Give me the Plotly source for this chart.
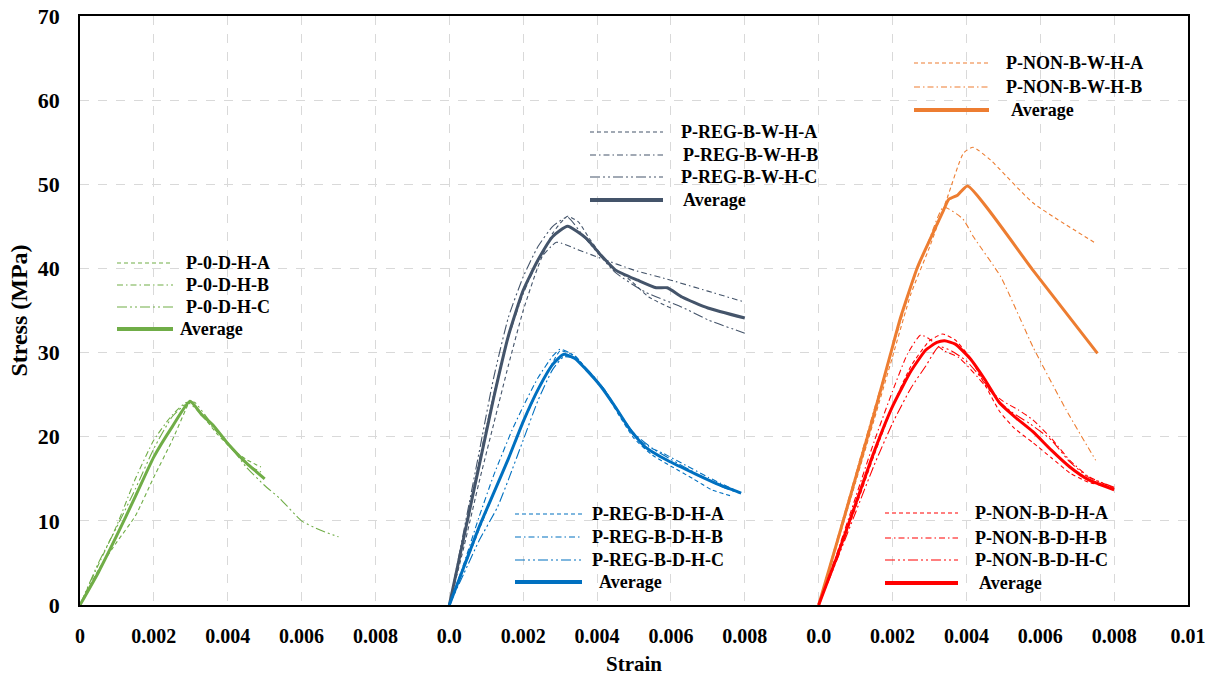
import plotly.graph_objects as go

# ---------------- DATA ----------------
# x axis: three strain panels placed side by side on one axis
panel_offsets = [0.0, 0.010, 0.020]
x_tick_values = [0, 0.002, 0.004, 0.006, 0.008, 0.010, 0.012, 0.014, 0.016, 0.018,
                 0.020, 0.022, 0.024, 0.026, 0.028, 0.030]
x_tick_labels = ["0", "0.002", "0.004", "0.006", "0.008", "0.0", "0.002", "0.004",
                 "0.006", "0.008", "0.0", "0.002", "0.004", "0.006", "0.008", "0.01"]
y_tick_values = [0, 10, 20, 30, 40, 50, 60, 70]

# Panel 1: P-0-D-H
p0_A_strain = [0, 0.0005, 0.001, 0.0015, 0.002, 0.0025, 0.0029, 0.00297, 0.0033, 0.0037, 0.0041, 0.0045, 0.0049]
p0_A_stress = [0, 4.2, 7.5, 10.6, 15.2, 19.6, 23.6, 24.2, 22.6, 20.4, 18.6, 17.3, 16.4]
p0_B_strain = [0, 0.0005, 0.001, 0.0015, 0.002, 0.0025, 0.0029, 0.0033, 0.0037, 0.0041, 0.0045, 0.0049]
p0_B_stress = [0, 4.8, 9.5, 15.0, 19.6, 22.6, 24.1, 22.6, 20.6, 18.6, 16.8, 15.8]
p0_C_strain = [0, 0.0005, 0.001, 0.0015, 0.002, 0.0025, 0.0029, 0.0031, 0.0035, 0.004, 0.0045, 0.005, 0.0054, 0.006, 0.0065, 0.007]
p0_C_stress = [0, 5.0, 9.3, 13.8, 18.6, 22.4, 24.0, 24.1, 21.9, 19.3, 16.4, 14.2, 12.7, 10.0, 8.9, 8.1]
p0_avg_strain = [0, 0.0005, 0.001, 0.0015, 0.002, 0.0025, 0.00298, 0.0033, 0.0036, 0.004, 0.0045, 0.005]
p0_avg_stress = [0, 3.9, 8.3, 12.9, 17.6, 21.2, 24.2, 22.6, 21.4, 19.2, 16.9, 15.0]

# Panel 2 (upper): P-REG-B-W-H
rw_A_strain = [0, 0.0004, 0.0008, 0.0012, 0.0016, 0.002, 0.0024, 0.0028, 0.0032, 0.0035, 0.0038, 0.0043, 0.0049, 0.0054, 0.006]
rw_A_stress = [0, 7.0, 14.5, 21.5, 28.5, 35.0, 40.2, 44.2, 46.2, 45.5, 43.5, 40.6, 38.6, 36.6, 35.3]
rw_B_strain = [0, 0.0004, 0.0008, 0.0012, 0.0016, 0.002, 0.0024, 0.0029, 0.0035, 0.0041, 0.005, 0.006, 0.007, 0.008]
rw_B_stress = [0, 8.5, 17.0, 25.0, 31.8, 37.0, 40.8, 43.1, 42.2, 41.2, 39.8, 38.6, 37.3, 36.0]
rw_C_strain = [0, 0.0004, 0.0008, 0.0012, 0.0016, 0.002, 0.0024, 0.0028, 0.0032, 0.0036, 0.0045, 0.0053, 0.0063, 0.007, 0.008]
rw_C_stress = [0, 9.0, 18.0, 27.0, 34.2, 39.0, 42.6, 45.0, 46.1, 44.0, 39.5, 37.2, 35.4, 33.9, 32.3]
rw_avg_strain = [0, 0.0004, 0.0008, 0.0012, 0.0016, 0.002, 0.0024, 0.0028, 0.0032, 0.0037, 0.0041, 0.0045, 0.0051, 0.0056, 0.0059, 0.0063, 0.007, 0.008]
rw_avg_stress = [0, 8.2, 16.4, 24.6, 32.0, 37.4, 41.0, 43.8, 45.0, 43.6, 41.6, 39.8, 38.6, 37.7, 37.7, 36.6, 35.3, 34.1]

# Panel 2 (lower): P-REG-B-D-H
rd_A_strain = [0, 0.0004, 0.0008, 0.0012, 0.0016, 0.002, 0.0024, 0.0028, 0.003, 0.0034, 0.0038, 0.0042, 0.0046, 0.005, 0.0055, 0.006, 0.0066, 0.0071, 0.0076]
rd_A_stress = [0, 4.4, 8.9, 13.2, 17.5, 21.7, 25.5, 28.8, 30.2, 29.6, 27.6, 25.4, 22.5, 19.8, 17.8, 16.5, 15.0, 13.7, 13.0]
rd_B_strain = [0, 0.0004, 0.0008, 0.0012, 0.0017, 0.002, 0.0024, 0.0028, 0.003, 0.0034, 0.0038, 0.0042, 0.0046, 0.005, 0.0054, 0.0058, 0.0064, 0.007, 0.0079]
rd_B_stress = [0, 5.0, 10.4, 15.4, 20.8, 23.6, 27.0, 29.6, 30.4, 29.6, 27.6, 25.6, 22.8, 20.2, 18.8, 18.0, 16.6, 15.2, 13.3]
rd_C_strain = [0, 0.0004, 0.0008, 0.0013, 0.0016, 0.002, 0.0024, 0.0028, 0.0031, 0.0034, 0.0038, 0.0042, 0.0046, 0.005, 0.0055, 0.006, 0.0067, 0.0073, 0.0079]
rd_C_stress = [0, 3.8, 7.6, 11.6, 14.9, 19.6, 24.3, 28.0, 29.5, 29.3, 27.7, 25.6, 22.9, 20.4, 18.6, 17.3, 15.6, 14.2, 13.2]
rd_avg_strain = [0, 0.0004, 0.0008, 0.0012, 0.0016, 0.002, 0.0024, 0.0028, 0.0031, 0.0034, 0.0037, 0.0041, 0.0045, 0.0049, 0.0053, 0.0059, 0.0067, 0.0073, 0.0079]
rd_avg_stress = [0, 4.6, 9.2, 13.3, 17.4, 21.8, 25.6, 28.6, 29.8, 29.3, 28.0, 26.0, 23.5, 20.8, 18.8, 17.2, 15.5, 14.3, 13.3]

# Panel 3 (upper): P-NON-B-W-H
nw_A_strain = [0, 0.0005, 0.001, 0.0015, 0.002, 0.0025, 0.003, 0.00349, 0.00392, 0.00418, 0.00465, 0.0058, 0.0075]
nw_A_stress = [0, 7.2, 14.6, 22.0, 29.5, 37.0, 42.5, 48.5, 53.7, 54.4, 52.9, 47.8, 43.0]
nw_B_strain = [0, 0.0005, 0.001, 0.0015, 0.002, 0.0025, 0.003, 0.00338, 0.0039, 0.0042, 0.00493, 0.0058, 0.0067, 0.0075]
nw_B_stress = [0, 7.8, 15.5, 23.2, 30.5, 37.8, 43.5, 47.3, 45.9, 43.7, 39.0, 30.7, 23.2, 17.2]
nw_avg_strain = [0, 0.0005, 0.001, 0.0015, 0.00195, 0.00222, 0.00268, 0.003, 0.00338, 0.00352, 0.00376, 0.00403, 0.0058, 0.00755]
nw_avg_stress = [0, 7.5, 15.1, 22.7, 29.9, 34.2, 40.2, 43.3, 46.9, 48.2, 48.7, 49.8, 39.8, 29.9]

# Panel 3 (lower): P-NON-B-D-H
nd_A_strain = [0, 0.0005, 0.001, 0.0015, 0.002, 0.0025, 0.003, 0.00336, 0.0037, 0.0041, 0.0045, 0.0049, 0.0053, 0.0058, 0.0063, 0.0068, 0.0073, 0.008]
nd_A_stress = [0, 5.6, 11.6, 17.8, 23.6, 28.4, 31.4, 32.2, 31.5, 29.4, 26.2, 23.0, 21.0, 19.3, 17.5, 15.7, 14.6, 13.9]
nd_B_strain = [0, 0.0005, 0.001, 0.0015, 0.002, 0.0024, 0.00276, 0.003, 0.0034, 0.0038, 0.0042, 0.0046, 0.005, 0.0054, 0.0058, 0.0063, 0.0068, 0.0073, 0.008]
nd_B_stress = [0, 6.2, 12.8, 19.4, 25.4, 29.8, 32.1, 31.6, 30.2, 29.4, 27.6, 25.6, 24.2, 23.2, 22.0, 19.8, 17.2, 15.3, 13.9]
nd_C_strain = [0, 0.0005, 0.001, 0.0015, 0.002, 0.0025, 0.0029, 0.00325, 0.0036, 0.004, 0.0044, 0.0048, 0.0052, 0.0057, 0.0063, 0.0068, 0.0073, 0.008]
nd_C_stress = [0, 5.4, 11.0, 16.6, 21.6, 25.8, 28.4, 30.7, 30.2, 29.0, 27.0, 24.6, 23.0, 21.6, 19.6, 17.0, 15.2, 14.0]
nd_avg_strain = [0, 0.0005, 0.001, 0.0015, 0.002, 0.0025, 0.0029, 0.0032, 0.00341, 0.0037, 0.0041, 0.0045, 0.0049, 0.0053, 0.0058, 0.0063, 0.0068, 0.0073, 0.008]
nd_avg_stress = [0, 5.8, 12.0, 18.2, 23.6, 27.8, 30.3, 31.2, 31.4, 31.0, 29.3, 26.8, 24.0, 22.4, 20.6, 18.4, 16.4, 14.9, 13.7]

# ---------------- STYLE ----------------
GREEN, SLATE, BLUE, ORANGE, RED = "#70AD47", "#44546A", "#0070C0", "#ED7D31", "#FF0000"
DASH_A = "4px,3px"
DASH_B = "6px,3px,1.5px,3px"
DASH_C = "10px,3px,2px,3px,2px,3px"
FONT = "Liberation Serif"

series = [
    # (name, strain, stress, panel, color, dash, width)
    ("P-0-D-H-A", p0_A_strain, p0_A_stress, 0, GREEN, DASH_A, 1.1),
    ("P-0-D-H-B", p0_B_strain, p0_B_stress, 0, GREEN, DASH_B, 1.1),
    ("P-0-D-H-C", p0_C_strain, p0_C_stress, 0, GREEN, DASH_C, 1.1),
    ("Average", p0_avg_strain, p0_avg_stress, 0, GREEN, "solid", 3),
    ("P-REG-B-W-H-A", rw_A_strain, rw_A_stress, 1, SLATE, DASH_A, 1.1),
    ("P-REG-B-W-H-B", rw_B_strain, rw_B_stress, 1, SLATE, DASH_B, 1.1),
    ("P-REG-B-W-H-C", rw_C_strain, rw_C_stress, 1, SLATE, DASH_C, 1.1),
    ("Average", rw_avg_strain, rw_avg_stress, 1, SLATE, "solid", 3),
    ("P-REG-B-D-H-A", rd_A_strain, rd_A_stress, 1, BLUE, DASH_A, 1.1),
    ("P-REG-B-D-H-B", rd_B_strain, rd_B_stress, 1, BLUE, DASH_B, 1.1),
    ("P-REG-B-D-H-C", rd_C_strain, rd_C_stress, 1, BLUE, DASH_C, 1.1),
    ("Average", rd_avg_strain, rd_avg_stress, 1, BLUE, "solid", 3),
    ("P-NON-B-W-H-A", nw_A_strain, nw_A_stress, 2, ORANGE, DASH_A, 1.1),
    ("P-NON-B-W-H-B", nw_B_strain, nw_B_stress, 2, ORANGE, DASH_B, 1.1),
    ("Average", nw_avg_strain, nw_avg_stress, 2, ORANGE, "solid", 3),
    ("P-NON-B-D-H-A", nd_A_strain, nd_A_stress, 2, RED, DASH_A, 1.1),
    ("P-NON-B-D-H-B", nd_B_strain, nd_B_stress, 2, RED, DASH_B, 1.1),
    ("P-NON-B-D-H-C", nd_C_strain, nd_C_stress, 2, RED, DASH_C, 1.1),
    ("Average", nd_avg_strain, nd_avg_stress, 2, RED, "solid", 3),
]

fig = go.Figure()
for name, sx, sy, panel, color, dash, width in series:
    off = panel_offsets[panel]
    fig.add_trace(go.Scatter(
        x=[v + off for v in sx], y=sy, mode="lines", name=name, showlegend=False,
        line=dict(color=color, dash=dash, width=width, shape="spline", smoothing=0.5),
    ))

# ---------------- LAYOUT ----------------
W, H = 1205, 679
L, R, T, B = 80, 17, 16, 74
PW, PH = W - L - R, H - T - B


def px(xp):
    return (xp - L) / PW


def py(yp):
    return (H - B - yp) / PH


# legend boxes (white, above grid, below curves)
legend_boxes = [(87, 248, 322, 345), (567, 118, 857, 215), (447, 500, 763, 600), (815, 495, 1157, 600)]
shapes = []
for x0, y0, x1, y1 in legend_boxes:
    shapes.append(dict(type="rect", xref="paper", yref="paper", x0=px(x0), x1=px(x1),
                       y0=py(y1), y1=py(y0), fillcolor="white", line=dict(width=0), layer="between"))

# legend blocks: (entries, line x0, line x1, text x, row ys)
legend_blocks = [
    ([0, 1, 2, 3], 117, 173, [184, 184, 184, 178], [263, 285, 307, 329]),
    ([4, 5, 6, 7], 590, 663, [679, 681, 679, 681], [132, 155, 177, 200]),
    ([8, 9, 10, 11], 515, 582, [590, 590, 590, 597], [514, 537, 560, 582]),
    ([12, 13, 14], 914, 989, [1004, 1004, 1009], [63, 87, 110]),
    ([15, 16, 17, 18], 885, 958, [973, 973, 973, 977], [513, 538, 560, 583]),
]
annotations = []
for idxs, lx0, lx1, txs, ys in legend_blocks:
    for i, tx, yy in zip(idxs, txs, ys):
        name, _, _, _, color, dash, width = series[i]
        lw = 4 if width > 2 else 1.2
        shapes.append(dict(type="line", xref="paper", yref="paper", x0=px(lx0), x1=px(lx1),
                           y0=py(yy), y1=py(yy), line=dict(color=color, dash=dash, width=lw),
                           layer="above"))
        annotations.append(dict(xref="paper", yref="paper", x=px(tx), y=py(yy), text=name,
                                showarrow=False, xanchor="left", yanchor="middle",
                                font=dict(family=FONT, size=18, color="black", weight="bold")))

fig.update_layout(
    width=W, height=H, margin=dict(l=L, r=R, t=T, b=B, autoexpand=False),
    paper_bgcolor="white", plot_bgcolor="white",
    showlegend=False, shapes=shapes, annotations=annotations,
    font=dict(family=FONT, color="black"),
)
fig.update_xaxes(
    range=[0, 0.030], tickvals=x_tick_values, ticktext=x_tick_labels,
    showgrid=True, gridcolor="#d9d9d9", griddash="dash", gridwidth=1,
    showline=True, linecolor="black", linewidth=1.5, mirror=True, zeroline=False,
    ticks="", ticklabelstandoff=12, ticklabeloverflow="allow", automargin=False,
    tickfont=dict(family=FONT, size=20, color="black", weight="bold"),
    title=dict(text="Strain", font=dict(family=FONT, size=21, color="black", weight="bold"), standoff=11),
)
fig.update_yaxes(
    range=[0, 70], tickvals=y_tick_values,
    showgrid=True, gridcolor="#d9d9d9", griddash="dash", gridwidth=1,
    showline=True, linecolor="black", linewidth=1.5, mirror=True, zeroline=False,
    ticks="", ticklabelstandoff=14, ticklabeloverflow="allow", automargin=False,
    tickfont=dict(family=FONT, size=22, color="black", weight="bold"),
    title=dict(text="Stress (MPa)", font=dict(family=FONT, size=24, color="black", weight="bold"), standoff=3),
)

fig.write_html("out.html")
